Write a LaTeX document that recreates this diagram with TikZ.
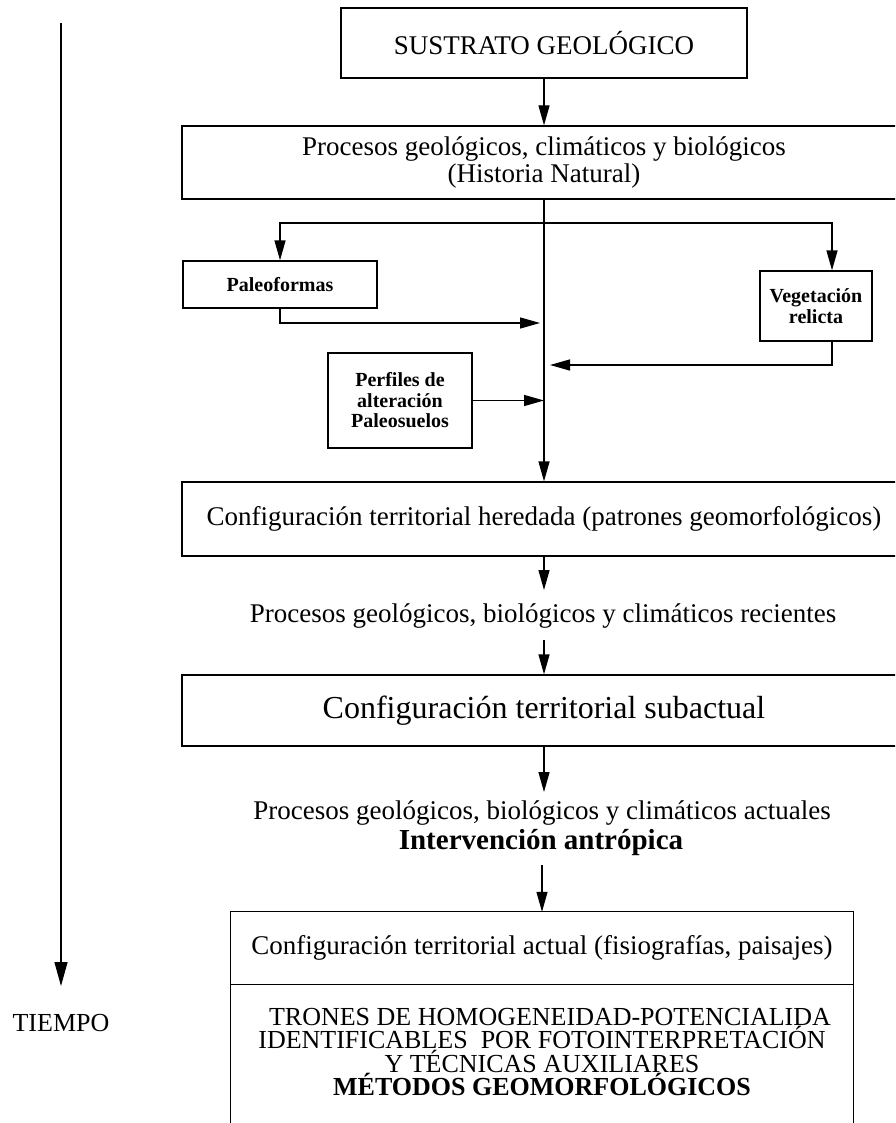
\documentclass[tikz,border=0pt]{standalone}
\usepackage{fontspec}
\setmainfont{Liberation Serif}
\usetikzlibrary{arrows.meta,calc}
\begin{document}
\begin{tikzpicture}[x=1pt,y=-1pt,
  ln/.style={line width=1.3pt},
  arr/.style={ln,-{Triangle[length=20pt,width=11pt]}},
  boxed/.style={draw,ln,inner sep=0pt,align=center},
  mtxt/.style={font=\fontsize{27}{27}\selectfont},
  stxt/.style={font=\fontsize{20}{20.5}\selectfont\bfseries},
  ]
\useasboundingbox (0,0) rectangle (895,1123);
\clip (0,0) rectangle (895,1123);
% boxes
\node[boxed,mtxt,minimum width=406,minimum height=70] (sust) at (544,43) {SUSTRATO GEOLÓGICO};
\node[boxed,mtxt,minimum width=724,minimum height=73] (proc) at (544,162.5) {Procesos geológicos, climáticos y biológicos\\(Historia Natural)};
\node[boxed,stxt,minimum width=194,minimum height=47] (paleo) at (280,284.5) {Paleoformas};
\node[boxed,stxt,minimum width=112,minimum height=70] (veg) at (816,306) {Vegetación\\relicta};
\node[boxed,stxt,minimum width=144,minimum height=95] (perf) at (400,400.5) {Perfiles de\\alteración\\Paleosuelos};
\node[boxed,mtxt,minimum width=724,minimum height=74] (hered) at (544,519) {Configuración territorial heredada (patrones geomorfológicos)};
\node[mtxt] (recien) at (543,616) {Procesos geológicos, biológicos y climáticos recientes};
\node[boxed,font=\fontsize{32}{36}\selectfont,minimum width=724,minimum height=71] (subact) at (544,710.5) {Configuración territorial subactual};
\node[mtxt] (actua) at (542,813) {Procesos geológicos, biológicos y climáticos actuales};
\node[font=\fontsize{29}{30}\selectfont\bfseries] (interv) at (541,843) {Intervención antrópica};
\node[mtxt,minimum width=622,minimum height=72,inner sep=0pt] (actual) at (542,948) {Configuración territorial actual (fisiografías, paisajes)};
\node[font=\fontsize{26}{22.3}\selectfont,align=center] (trones) at (542,1052) {\hspace*{16pt}TRONES DE HOMOGENEIDAD-POTENCIALIDA\\IDENTIFICABLES\ \ POR FOTOINTERPRETACIÓN\\Y TÉCNICAS AUXILIARES\\\textbf{MÉTODOS GEOMORFOLÓGICOS}};
\node[font=\fontsize{26}{26}\selectfont] (tiempo) at (61,1023) {TIEMPO};
% final open box
\draw[ln] ($(actual.north west)+(0,230)$) -- (actual.north west) -- (actual.north east) -- ($(actual.north east)+(0,230)$);
\draw[ln] (actual.south west) -- (actual.south east);
% coordinates
\coordinate (br) at (544,223);
\coordinate (pj) at (540,323);
\coordinate (vj) at (550,365);
\coordinate (r1) at (544,590);
\coordinate (r2) at (544,640);
\coordinate (a1) at (544,792);
\coordinate (i1) at (542,865);
\coordinate (t0) at (61,23);
\coordinate (t1) at (61,986);
% connectors
\draw[arr] (sust) -- (proc);
\draw[arr] (proc) -- (hered);
\draw[arr] (br) -| (paleo.north);
\draw[arr] (br) -| ($(veg.north)+(16,0)$);
\draw[arr] (paleo.south) |- (pj);
\draw[arr] ($(veg.south)+(16,0)$) |- (vj);
\draw[arr] (perf.east) -- (perf.east -| hered.north);
\draw[arr] (hered.south) -- (r1);
\draw[arr] (r2) -- (subact.north);
\draw[arr] (subact.south) -- (a1);
\draw[arr] (i1) -- (actual.north);
\draw[ln,-{Triangle[length=24pt,width=13pt]}] (t0) -- (t1);
\end{tikzpicture}
\end{document}
